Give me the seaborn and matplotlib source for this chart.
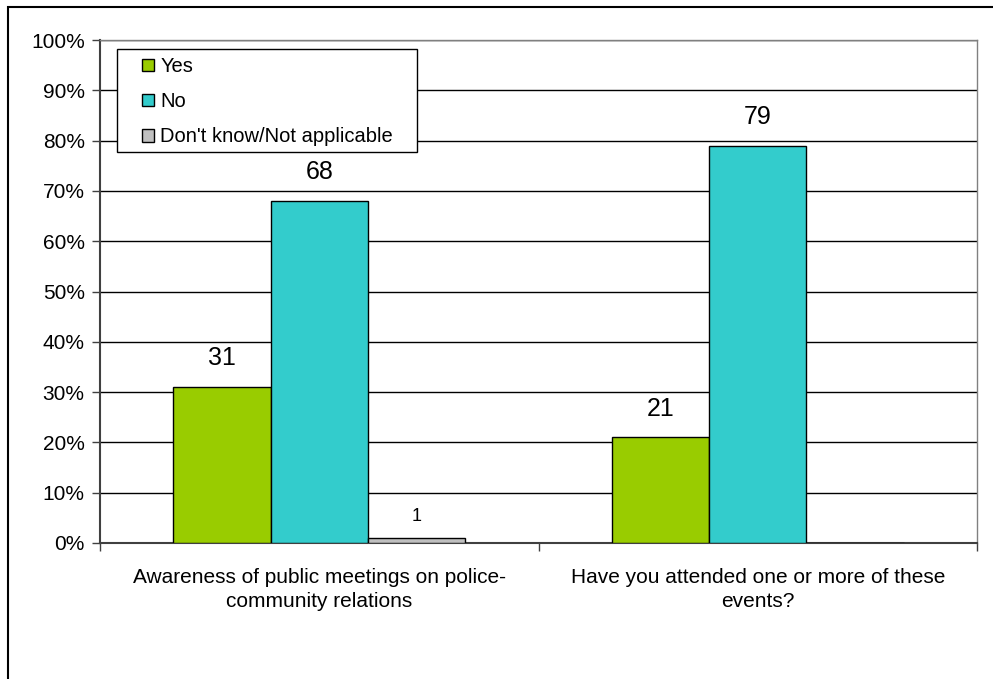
import matplotlib
matplotlib.use("Agg")
import matplotlib.pyplot as plt
from matplotlib.patches import Rectangle
import pandas as pd
import seaborn as sns

# Survey results (percent of respondents)
questions = [
    "Awareness of public meetings on police-\ncommunity relations",
    "Have you attended one or more of these\nevents?",
]
responses = ["Yes", "No", "Don't know/Not applicable"]
yes_pct = [31, 21]
no_pct = [68, 79]
dk_pct = [1, 0]
colors = ["#99CC00", "#33CCCC", "#C0C0C0"]
y_ticks = list(range(0, 101, 10))
y_tick_labels = [f"{v}%" for v in y_ticks]

rows = []
for resp, vals in zip(responses, [yes_pct, no_pct, dk_pct]):
    for q, v in zip(questions, vals):
        rows.append({"question": q, "response": resp, "pct": v})
df = pd.DataFrame(rows)

sns.set_theme(style="white")
plt.rcParams["font.family"] = ["Liberation Sans", "DejaVu Sans"]
plt.rcParams["text.color"] = "black"
plt.rcParams["xtick.color"] = "black"
plt.rcParams["ytick.color"] = "black"

W, H = 993, 679
fig = plt.figure(figsize=(W / 100, H / 100), dpi=100)
ax = fig.add_axes([100 / W, 1 - 543 / H, 877 / W, 503 / H])

sns.barplot(
    data=df, x="question", y="pct", hue="response",
    order=questions, hue_order=responses, palette=colors, saturation=1,
    width=2 / 3, gap=0, edgecolor="black", linewidth=1,
    errorbar=None, ax=ax, zorder=3,
)

ax.set_xlim(-0.5, 1.5)
ax.set_ylim(0, 100)
ax.set_yticks(y_ticks)
ax.set_yticklabels(y_tick_labels, fontsize=15)
ax.yaxis.grid(True, color="black", linewidth=1)
ax.set_axisbelow(True)
ax.set_xlabel("")
ax.set_ylabel("")

# category labels centred, tick marks on the category boundaries
ax.set_xticks([0, 1])
ax.set_xticklabels(questions, fontsize=15, linespacing=1.35)
ax.tick_params(axis="x", which="major", length=0, pad=18)
ax.set_xticks([-0.5, 0.5, 1.5], minor=True)
ax.tick_params(axis="x", which="minor", bottom=True, length=6, width=1,
               color="#404040", direction="out")
ax.tick_params(axis="y", left=True, length=6, width=1, color="#404040",
               direction="out", pad=5)

for side in ["top", "right"]:
    ax.spines[side].set_color("#808080")
    ax.spines[side].set_linewidth(1)
for side in ["left", "bottom"]:
    ax.spines[side].set_color("#404040")
    ax.spines[side].set_linewidth(1.5)

# value labels above bars
for cont, vals in zip(ax.containers, [yes_pct, no_pct, dk_pct]):
    for bar, v in zip(cont, vals):
        if v == 0:
            continue
        small = v < 5
        ax.annotate(
            f"{v}", (bar.get_x() + bar.get_width() / 2, bar.get_height()),
            xytext=(0, 9 if small else 12), textcoords="offset points",
            ha="center", va="bottom", fontsize=13 if small else 18,
        )

# legend box
ax.add_patch(Rectangle((17 / 877, (543 - 152) / 503), 300 / 877, 103 / 503,
                       transform=ax.transAxes, facecolor="white",
                       edgecolor="black", linewidth=1, zorder=4))
handles, labels = ax.get_legend_handles_labels()
leg = ax.legend(
    handles, labels, loc="upper left",
    bbox_to_anchor=(42 / 877, (543 - 57) / 503), borderaxespad=0,
    fontsize=14.5, frameon=False, borderpad=0,
    handlelength=0.6, handleheight=0.6, handletextpad=0.3,
    labelspacing=0.8,
)
for h in leg.legend_handles:
    h.set_edgecolor("black")
    h.set_linewidth(1)
leg.set_zorder(5)

# outer chart frame
fig.patches.append(Rectangle((8 / W, -0.05), 1.1, 1 - 7 / H + 0.05,
                             transform=fig.transFigure, fill=False,
                             edgecolor="black", linewidth=1.5))

fig.savefig("out.png", dpi=100)
